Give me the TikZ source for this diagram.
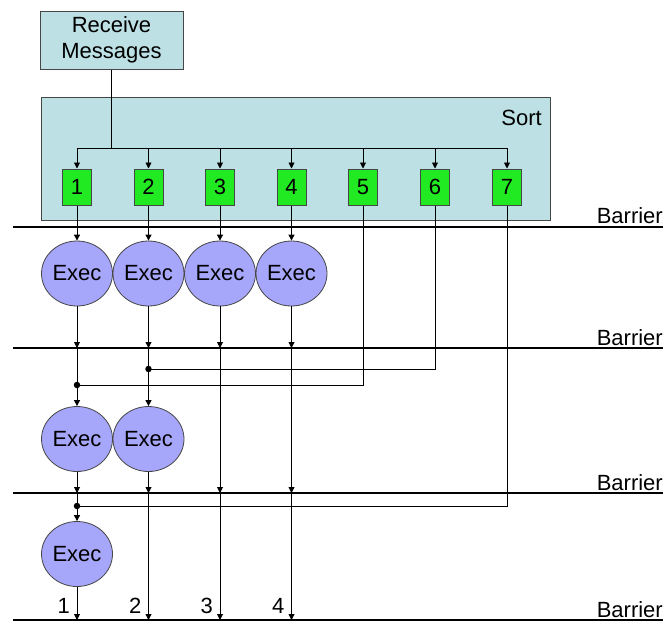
\documentclass[tikz,border=0pt]{standalone}
\usepackage{fontspec}
\setmainfont{Liberation Sans}
\usetikzlibrary{arrows.meta,shapes.geometric}
\definecolor{sortfill}{RGB}{188,224,228}
\definecolor{numgreen}{RGB}{34,234,34}
\definecolor{execfill}{RGB}{166,166,250}
\definecolor{edgegray}{RGB}{70,70,70}
\begin{document}
\begin{tikzpicture}[x=1pt,y=-1pt,
  every node/.style={font=\fontsize{22}{26.5}\selectfont},
  procbox/.style={draw=edgegray, fill=sortfill, line width=1pt, inner sep=0pt},
  numbox/.style={draw=edgegray, fill=numgreen, minimum width=29pt, minimum height=36pt, inner sep=0pt, line width=1pt},
  execnode/.style={ellipse, draw=edgegray, fill=execfill, minimum width=71pt, minimum height=65pt, inner sep=0pt, line width=0.8pt},
  conn/.style={line width=0.9pt},
  arr/.style={conn, -{Triangle[length=6pt,width=6pt]}},
  barrier/.style={line width=2.5pt},
  dotnode/.style={circle, fill=black, inner sep=0pt, minimum size=6.5pt},
  lbl/.style={inner sep=0pt},
]
\useasboundingbox (0,0) rectangle (663,622);

% boxes
\node[procbox, minimum width=143pt, minimum height=58pt, align=center] (recv) at (111.5,40) {Receive\\Messages};
\node[procbox, minimum width=509pt, minimum height=123pt] (sort) at (295.5,158.5) {};
\node[lbl, anchor=base east] (sortlbl) at (542,125) {Sort};

% number boxes
\foreach \i/\x in {1/77,2/148.5,3/220,4/291.5,5/363,6/435,7/507}{
  \node[numbox] (n\i) at (\x,187) {\i};
  \coordinate (d\i) at (\x,148);
}

% distribution
\draw[conn] (recv.south) -- (recv.south |- d1);
\draw[conn] (d1) -- (d7);
\foreach \i in {1,...,7}{ \draw[arr] (d\i) -- (n\i.north); }

% barriers
\foreach \k/\y/\ly in {1/227/223,2/348/345,3/493/490,4/620/617}{
  \coordinate (bl\k) at (13,\y);
  \coordinate (br\k) at (663,\y);
  \draw[barrier] (bl\k) -- (br\k);
  \node[lbl, anchor=base east] (bt\k) at (663,\ly) {Barrier};
}

% exec nodes
\node[execnode] (e11) at (77,273.5) {Exec};
\node[execnode] (e12) at (148.5,273.5) {Exec};
\node[execnode] (e13) at (220,273.5) {Exec};
\node[execnode] (e14) at (291.5,273.5) {Exec};
\node[execnode] (e21) at (77,439) {Exec};
\node[execnode] (e22) at (148.5,439) {Exec};
\node[execnode] (e31) at (77,554) {Exec};

% crossing points on barriers
\foreach \i/\x in {1/77,2/148.5,3/220,4/291.5}{
  \coordinate (a\i) at (\x,348);
  \coordinate (b\i) at (\x,493);
  \coordinate (c\i) at (\x,620);
}

% joins
\node[dotnode] (j2) at (148.5,369) {};
\node[dotnode] (j1) at (77,385) {};
\node[dotnode] (j3) at (77,506) {};

% first row inputs
\foreach \i in {1,...,4}{ \draw[arr] (n\i.south) -- (e1\i.north); }
\foreach \i in {1,...,4}{ \draw[arr] (e1\i.south) -- (a\i); }

% late items
\draw[conn] (n5.south) |- (j1.center);
\draw[conn] (n6.south) |- (j2.center);
\draw[conn] (n7.south) |- (j3.center);

% column 1
\draw[arr] (a1) -- (e21.north);
\draw[arr] (e21.south) -- (b1);
\draw[arr] (b1) -- (e31.north);
\draw[arr] (e31.south) -- (c1);
% column 2
\draw[arr] (a2) -- (e22.north);
\draw[arr] (e22.south) -- (b2);
\draw[arr] (b2) -- (c2);
% columns 3,4
\foreach \i in {3,4}{
  \draw[arr] (a\i) -- (b\i);
  \draw[arr] (b\i) -- (c\i);
}

% output labels
\foreach \i/\x in {1/70,2/141.5,3/213,4/284.5}{
  \node[lbl, anchor=base east] (o\i) at (\x,613) {\i};
}
\end{tikzpicture}
\end{document}
